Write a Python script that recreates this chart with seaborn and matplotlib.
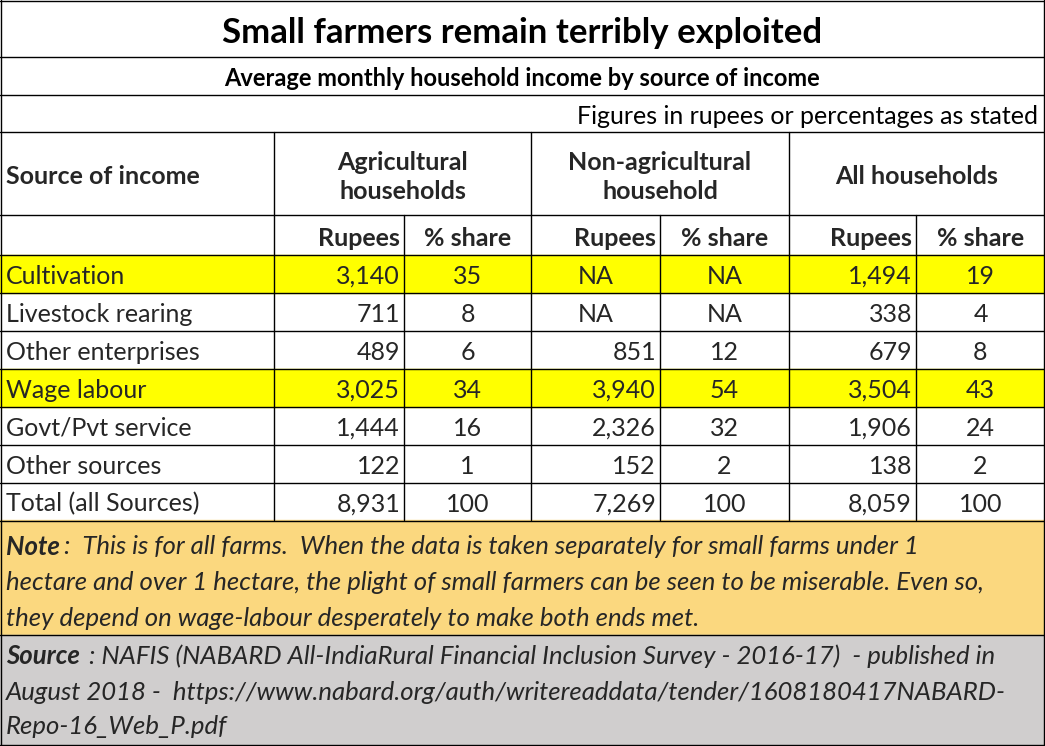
import matplotlib
matplotlib.use("Agg")
import matplotlib.pyplot as plt
import seaborn as sns

sns.set_theme(style="white", font="Lato")

title = "Small farmers remain terribly exploited"
subtitle = "Average monthly household income by source of income"
unit_note = "Figures in rupees or percentages as stated"
groups = ["Agricultural\nhouseholds", "Non-agricultural\nhousehold", "All households"]
sources = ["Cultivation", "Livestock rearing", "Other enterprises", "Wage labour",
           "Govt/Pvt service", "Other sources", "Total (all Sources)"]
agri_rs = ["3,140", "711", "489", "3,025", "1,444", "122", "8,931"]
agri_pct = ["35", "8", "6", "34", "16", "1", "100"]
nonagri_rs = ["NA", "NA", "851", "3,940", "2,326", "152", "7,269"]
nonagri_pct = ["NA", "NA", "12", "54", "32", "2", "100"]
all_rs = ["1,494", "338", "679", "3,504", "1,906", "138", "8,059"]
all_pct = ["19", "4", "8", "43", "24", "2", "100"]
highlight = [True, False, False, True, False, False, False]
note_lines = [":  This is for all farms.  When the data is taken separately for small farms under 1",
              "hectare and over 1 hectare, the plight of small farmers can be seen to be miserable. Even so,",
              "they depend on wage-labour desperately to make both ends met."]
source_lines = [": NAFIS (NABARD All-IndiaRural Financial Inclusion Survey - 2016-17)  - published in",
                "August 2018 -  https://www.nabard.org/auth/writereaddata/tender/1608180417NABARD-",
                "Repo-16_Web_P.pdf"]

W, H = 1045, 746
fig = plt.figure(figsize=(W / 100, H / 100), dpi=100)
ax = fig.add_axes([0, 0, 1, 1])
ax.set_xlim(0, W)
ax.set_ylim(H, 0)
ax.axis("off")

cols = [0, 274, 404, 531, 660, 789, 916, 1045]
row_top = 255
rh = 38
data_bottom = 520
lw = 1.0
FS = 18
NFS = 18.5
OFF = 2

def hline(y, x0=0, x1=W):
    ax.plot([x0, x1], [y, y], color="black", lw=lw)

def vline(x, y0, y1):
    ax.plot([x, x], [y0, y1], color="black", lw=lw)

for i, h in enumerate(highlight):
    if h:
        ax.add_patch(plt.Rectangle((0, row_top + i * rh), W, rh, color="#FFFF00", zorder=0))
ax.add_patch(plt.Rectangle((0, data_bottom), W, 635 - data_bottom, color="#FBD87F", zorder=0))
ax.add_patch(plt.Rectangle((0, 635), W, H - 635, color="#D0CECE", zorder=0))

ax.text(W / 2, 31 + OFF, title, ha="center", va="center", fontsize=25, fontweight="bold", color="black")
ax.text(W / 2, 76 + OFF, subtitle, ha="center", va="center", fontsize=17, fontweight="bold", color="black")
ax.text(1038, 114 + OFF, unit_note, ha="right", va="center", fontsize=FS, color="black")
ax.text(6, 175 + OFF, "Source of income", ha="left", va="center", fontsize=FS, fontweight="bold")
for g, (a, b) in zip(groups, [(274, 531), (531, 789), (789, 1045)]):
    ax.text((a + b) / 2, 175 + OFF, g, ha="center", va="center", fontsize=FS, fontweight="bold", linespacing=1.35)
for k in range(3):
    ax.text(cols[1 + 2 * k + 1] - 4, 236 + OFF, "Rupees", ha="right", va="center", fontsize=FS, fontweight="bold")
    ax.text((cols[2 + 2 * k] + cols[3 + 2 * k]) / 2, 236 + OFF, "% share", ha="center", va="center",
            fontsize=FS, fontweight="bold")

for i, s in enumerate(sources):
    y = row_top + i * rh + rh / 2 + OFF
    ax.text(6, y, s, ha="left", va="center", fontsize=FS)
    for k, (rs, pc) in enumerate([(agri_rs, agri_pct), (nonagri_rs, nonagri_pct), (all_rs, all_pct)]):
        x0, x1, x2 = cols[1 + 2 * k], cols[2 + 2 * k], cols[3 + 2 * k]
        if rs[i] == "NA":
            ax.text((x0 + x1) / 2, y, rs[i], ha="center", va="center", fontsize=FS)
        else:
            ax.text(x1 - 4, y, rs[i], ha="right", va="center", fontsize=FS)
        ax.text((x1 + x2) / 2, y, pc[i], ha="center", va="center", fontsize=FS)

ys = [545, 581, 616]
for j, l in enumerate(note_lines):
    y = ys[j] + OFF
    if j == 0:
        ax.text(6, y, "Note", ha="left", va="center", fontsize=NFS, fontweight="bold", style="italic")
        ax.text(64, y, l, ha="left", va="center", fontsize=NFS, style="italic")
    else:
        ax.text(6, y, l, ha="left", va="center", fontsize=NFS, style="italic")
ys = [654, 690, 725]
for j, l in enumerate(source_lines):
    y = ys[j] + OFF
    if j == 0:
        ax.text(6, y, "Source", ha="left", va="center", fontsize=NFS, fontweight="bold", style="italic")
        ax.text(89, y, l, ha="left", va="center", fontsize=NFS, style="italic")
    else:
        ax.text(6, y, l, ha="left", va="center", fontsize=NFS, style="italic")

for y in [1, 57, 95, 132, 215] + [row_top + i * rh for i in range(8)] + [635]:
    hline(y)
hline(H - 1)
vline(1, 0, H)
vline(W - 1, 0, H)
for x in [274, 531, 789]:
    vline(x, 132, data_bottom)
for x in [404, 660, 916]:
    vline(x, 215, data_bottom)

fig.savefig("out.png", dpi=100)
